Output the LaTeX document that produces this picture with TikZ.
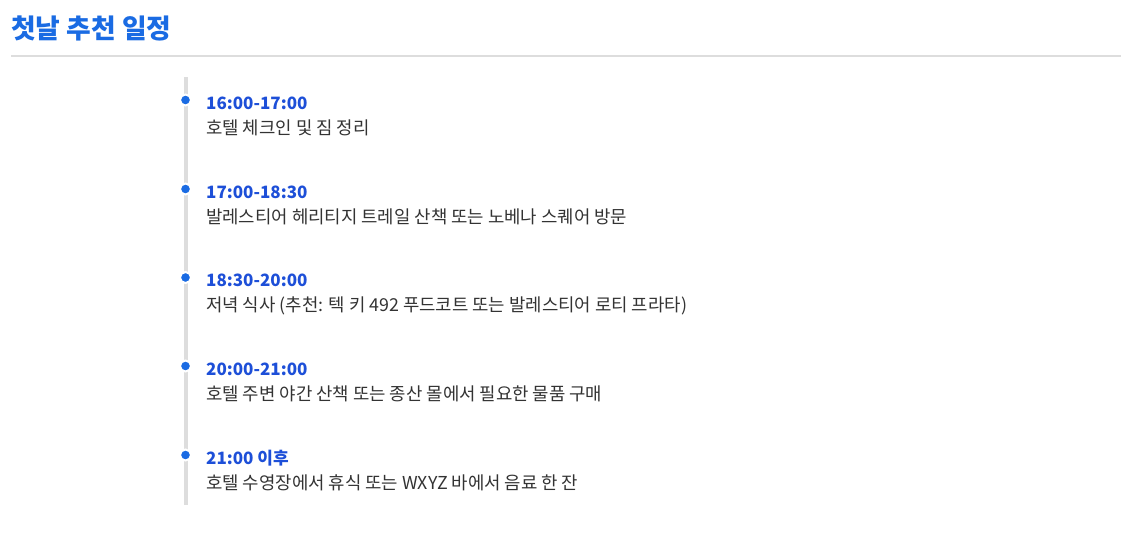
\documentclass[tikz,border=0pt]{standalone}
\usepackage{fontspec}
\setmainfont{Noto Sans CJK KR}
\definecolor{titleblue}{HTML}{1A6BE3}
\definecolor{timeblue}{HTML}{1D4FD8}
\definecolor{dotblue}{HTML}{1A6BE3}
\definecolor{linegray}{HTML}{DDDDDD}
\definecolor{desc}{HTML}{333333}
\tikzset{
  titletext/.style={anchor=base west, inner sep=0pt, text=titleblue, font=\fontsize{26.8}{30}\selectfont\bfseries},
  timetext/.style={anchor=base west, inner sep=0pt, text=timeblue, font=\fontsize{17}{20}\selectfont\bfseries},
  desctext/.style={anchor=base west, inner sep=0pt, text=desc, font=\fontsize{17.8}{20}\selectfont},
  dot/.style={circle, fill=dotblue, draw=white, line width=2pt, minimum size=11pt, inner sep=0pt},
}
\begin{document}
\begin{tikzpicture}[x=1pt,y=-1pt]
\useasboundingbox (0,0) rectangle (1131,535);
\fill[white] (0,0) rectangle (1131,535);
\node[titletext] (title) at (11,39) {첫날 추천 일정};
\coordinate (ruleL) at (11,56);
\coordinate (ruleR) at (1121,56);
\draw[linegray, line width=2pt] (ruleL) -- (ruleR);
\coordinate (tlTop) at (185.5,77);
\coordinate (tlBot) at (185.5,505);
\draw[linegray, line width=4pt] (tlTop) -- (tlBot);
\foreach \i/\y/\t/\d in {
  1/100/{16:00-17:00}/{호텔 체크인 및 짐 정리},
  2/189/{17:00-18:30}/{발레스티어 헤리티지 트레일 산책 또는 노베나 스퀘어 방문},
  3/277.5/{18:30-20:00}/{저녁 식사 (추천: 텍 키 492 푸드코트 또는 발레스티어 로티 프라타)},
  4/366/{20:00-21:00}/{호텔 주변 야간 산책 또는 종산 몰에서 필요한 물품 구매},
  5/455/{21:00 이후}/{호텔 수영장에서 휴식 또는 WXYZ 바에서 음료 한 잔}} {
  \node[dot] (dot\i) at (185.5,\y) {};
  \node[timetext] (time\i) at (206,\y+9) {\t};
  \node[desctext] (desc\i) at (206,\y+34) {\d};
}
\end{tikzpicture}
\end{document}
